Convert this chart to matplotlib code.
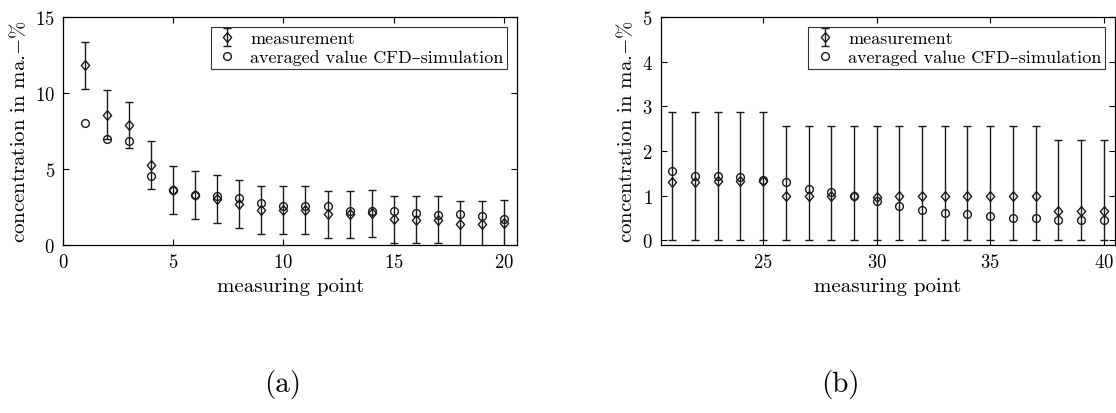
import matplotlib
matplotlib.use("Agg")
import matplotlib.pyplot as plt

plt.rcParams['font.family'] = ['cmr10', 'DejaVu Serif']
plt.rcParams['axes.formatter.use_mathtext'] = True
plt.rcParams['mathtext.fontset'] = 'cm'

# ---- data: panel (a) ----
pts_a = list(range(1, 21))
meas_a = [11.85, 8.58, 7.92, 5.28, 3.63, 3.28, 3.01, 2.68, 2.31, 2.29,
          2.29, 2.02, 2.02, 2.07, 1.69, 1.65, 1.65, 1.36, 1.36, 1.41]
err_a = [1.55, 1.6, 1.52, 1.58, 1.58, 1.57, 1.57, 1.58, 1.58, 1.57,
         1.57, 1.55, 1.55, 1.55, 1.55, 1.55, 1.55, 1.55, 1.55, 1.55]
sim_a = [8.03, 6.97, 6.86, 4.51, 3.63, 3.28, 3.23, 3.08, 2.75, 2.57,
         2.53, 2.57, 2.20, 2.20, 2.20, 2.09, 1.98, 2.02, 1.87, 1.69]

# ---- data: panel (b) ----
pts_b = list(range(21, 41))
meas_b = [1.30, 1.30, 1.32, 1.32, 1.33, 0.99, 0.99, 0.99, 0.99, 0.97,
          0.99, 0.99, 0.99, 0.99, 0.99, 0.99, 0.99, 0.65, 0.65, 0.65]
err_lo_b = list(meas_b)  # lower bound at 0
err_hi_b = [1.58, 1.58, 1.56, 1.56, 1.55, 1.57, 1.57, 1.57, 1.57, 1.59,
            1.57, 1.57, 1.57, 1.57, 1.57, 1.57, 1.57, 1.59, 1.59, 1.59]
sim_b = [1.56, 1.45, 1.44, 1.42, 1.34, 1.30, 1.14, 1.09, 0.99, 0.87,
         0.76, 0.67, 0.61, 0.58, 0.55, 0.50, 0.50, 0.46, 0.46, 0.45]

W, H = 1116, 414
fig = plt.figure(figsize=(W / 100, H / 100), dpi=100)

ax_a = fig.add_axes([63.3 / W, 1 - 245.7 / H, (517.3 - 63.3) / W, (245.7 - 18.3) / H])
ax_b = fig.add_axes([661 / W, 1 - 245.7 / H, (1115 - 661) / W, (245.7 - 18.3) / H])

col = '#1a1a1a'
diamond = [(0, 1), (0.85, 0), (0, -1), (-0.85, 0), (0, 1)]

def draw(ax, x, y, yerr, sim):
    eb = ax.errorbar(x, y, yerr=yerr, marker=diamond, linestyle='none',
                     mfc='none', mec=col, ms=7, mew=1.0, color=col,
                     ecolor=col, elinewidth=1.0, capsize=2.6, capthick=1.0,
                     zorder=3)
    ch, = ax.plot(x, sim, 'o', mfc='none', mec=col, ms=5.6, mew=1.0, zorder=3)
    ax.tick_params(direction='in', top=True, right=True, labelsize=13.5,
                   length=4, width=0.8, pad=6)
    for s in ax.spines.values():
        s.set_linewidth(0.9)
    ax.set_xlabel('measuring point', fontsize=15, labelpad=4)
    ax.set_ylabel(r'concentration in ma.$-\%$', fontsize=15, labelpad=4)
    leg = ax.legend([eb, ch], ['measurement', 'averaged value CFD\u2013simulation'],
                    loc='upper right', fontsize=13, frameon=True, fancybox=False,
                    edgecolor='black', borderaxespad=0.55, handletextpad=0.6,
                    borderpad=0.2, labelspacing=0.15, handlelength=1.4)
    leg.get_frame().set_linewidth(0.8)

draw(ax_a, pts_a, meas_a, err_a, sim_a)
ax_a.set_xlim(0, 20.62)
ax_a.set_ylim(0, 15)
ax_a.set_xticks([0, 5, 10, 15, 20])
ax_a.set_yticks([0, 5, 10, 15])

draw(ax_b, pts_b, meas_b, [err_lo_b, err_hi_b], sim_b)
ax_b.set_xlim(20.5, 40.5)
ax_b.set_ylim(-0.1, 5)
ax_b.set_xticks([25, 30, 35, 40])
ax_b.set_yticks([0, 1, 2, 3, 4, 5])

fig.text(283 / W, 1 - 385 / H, '(a)', fontsize=21, ha='center', va='center')
fig.text(840 / W, 1 - 385 / H, '(b)', fontsize=21, ha='center', va='center')

fig.savefig('out.png', dpi=100)
